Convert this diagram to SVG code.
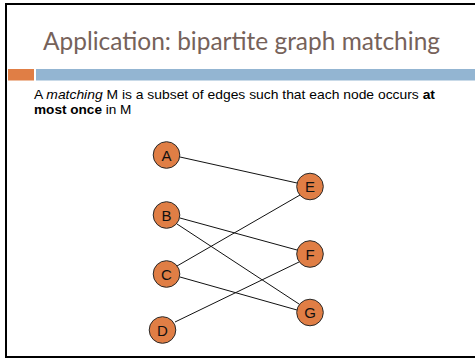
<svg xmlns="http://www.w3.org/2000/svg" width="475" height="359" viewBox="0 0 475 359">
  <style>
    .title { font-family: "Lato", "Open Sans", sans-serif; font-size: 24.5px; fill: #76625a; }
    .body { font-family: "Liberation Sans", Arial, sans-serif; font-size: 13.6px; fill: #000; }
    .node circle { fill: #e07e45; stroke: #2a2a2a; stroke-width: 1; }
    .node text { font-family: "Liberation Sans", Arial, sans-serif; font-size: 15px; fill: #111; text-anchor: middle; dominant-baseline: central; }
    .edges line { stroke: #111; stroke-width: 1; }
  </style>
  <rect x="0" y="0" width="475" height="359" fill="#fff"/>
  <!-- slide frame -->
  <path d="M480 4 H6 V357 H480" fill="none" stroke="#000" stroke-width="2"/>
  <text class="title" x="43" y="50" textLength="397" lengthAdjust="spacingAndGlyphs">Application: bipartite graph matching</text>
  <rect x="8" y="69" width="26" height="11.5" fill="#e07e45"/>
  <rect x="36" y="69" width="440" height="11.5" fill="#93b5d2"/>
  <text class="body" x="34" y="99" textLength="401" lengthAdjust="spacingAndGlyphs">A <tspan font-style="italic">matching</tspan> M is a subset of edges such that each node occurs <tspan font-weight="bold">at</tspan></text>
  <text class="body" x="34" y="114"><tspan font-weight="bold">most once</tspan> in M</text>

  <g class="edges">
    <line x1="180" y1="157" x2="297" y2="183"/>
    <line x1="180" y1="218" x2="297" y2="250"/>
    <line x1="177" y1="224" x2="299" y2="304"/>
    <line x1="177" y1="266" x2="300" y2="195"/>
    <line x1="180" y1="277" x2="297" y2="310"/>
    <line x1="175" y1="322" x2="299" y2="262"/>
  </g>

  <g id="node-A" class="node"><circle cx="166.5" cy="155" r="13.3"/><text x="166.5" y="155">A</text></g>
  <g id="node-B" class="node"><circle cx="166.5" cy="215" r="13.3"/><text x="166.5" y="215">B</text></g>
  <g id="node-C" class="node"><circle cx="166.5" cy="274" r="13.3"/><text x="166.5" y="274">C</text></g>
  <g id="node-D" class="node"><circle cx="162.5" cy="330" r="13.3"/><text x="162.5" y="330">D</text></g>
  <g id="node-E" class="node"><circle cx="310" cy="186.5" r="13.3"/><text x="310" y="186.5">E</text></g>
  <g id="node-F" class="node"><circle cx="310" cy="254" r="13.3"/><text x="310" y="254">F</text></g>
  <g id="node-G" class="node"><circle cx="310" cy="312.5" r="13.3"/><text x="310" y="312.5">G</text></g>
</svg>
